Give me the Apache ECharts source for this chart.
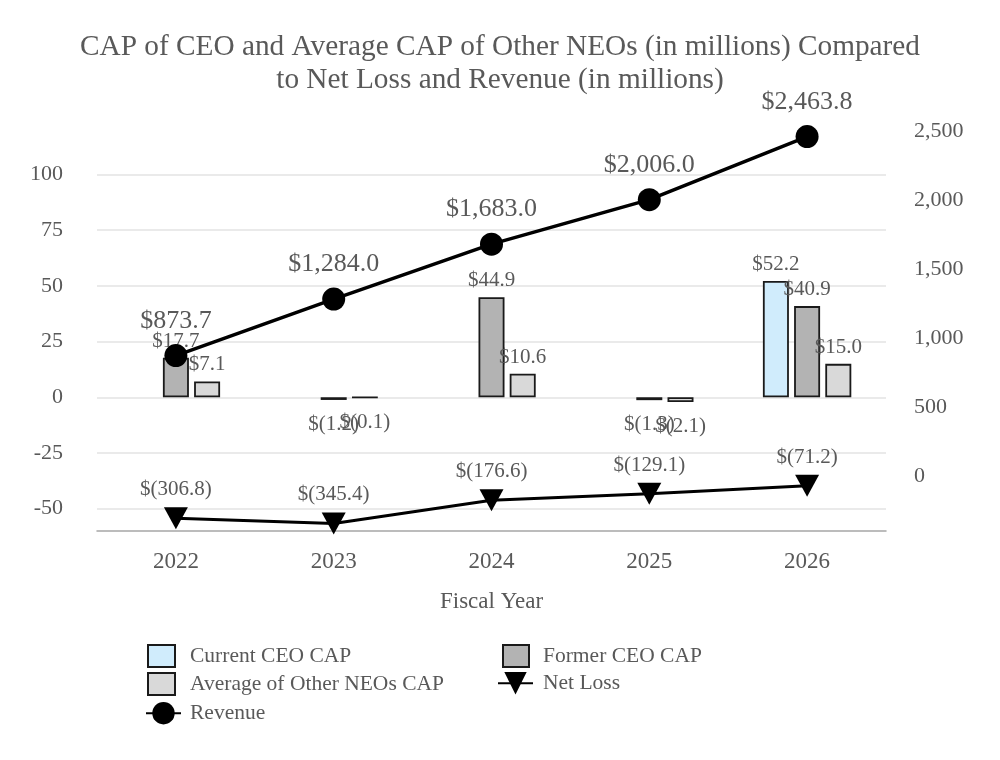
<!DOCTYPE html>
<html>
<head>
<meta charset="utf-8">
<title>CAP vs Net Loss and Revenue</title>
<script src="https://cdn.jsdelivr.net/npm/echarts@6/dist/echarts.min.js"></script>
<style>
  html, body { margin: 0; padding: 0; background: #fff; }
  #chartId1 { width: 1000px; height: 760px; }
</style>
</head>
<body>
<div id="chartId1"></div>
<script>
// 数据
var years = ['2022', '2023', '2024', '2025', '2026'];
var currentCeoCap = [null, null, null, null, 52.2];
var formerCeoCap = [17.7, -1.2, 44.9, -1.3, 40.9];
var avgNeoCap = [7.1, -0.1, 10.6, -2.1, 15.0];
var netLoss = [-306.8, -345.4, -176.6, -129.1, -71.2];
var revenue = [873.7, 1284.0, 1683.0, 2006.0, 2463.8];

var leftTicks = [-50, -25, 0, 25, 50, 75, 100];
var rightTicks = [0, 500, 1000, 1500, 2000, 2500];

var FONT = "'Liberation Serif', 'Times New Roman', serif";
var GREY = '#595959';

function money(v) {
  var s = Math.abs(v).toFixed(1).replace(/\B(?=(\d{3})+(?!\d))/g, ',');
  return v < 0 ? '$(' + s + ')' : '$' + s;
}

// 柱子数据，负数标签放在下面
function barData(arr) {
  return arr.map(function(v) {
    if (v == null) return null;
    return { value: v, label: { distance: v < 0 ? 14 : 6 } };
  });
}

function barSeries(name, arr, color) {
  return {
    name: name,
    type: 'bar',
    barWidth: 26,
    barGap: '20%',
    data: barData(arr),
    itemStyle: { color: color, borderColor: '#1a1a1a', borderWidth: 1.8 },
    label: {
      show: true,
      position: 'outside',
      color: GREY,
      fontFamily: FONT,
      fontSize: 21,
      formatter: function(p) { return money(p.value); },
    },
  };
}

var legendText = { color: GREY, fontFamily: FONT, fontSize: 21.5 };

var myChart = echarts.init(document.getElementById('chartId1'));
var option = {
  backgroundColor: '#fff',
  animation: false,
  title: {
    text: 'CAP of CEO and Average CAP of Other NEOs (in millions) Compared\nto Net Loss and Revenue (in millions)',
    left: 'center',
    top: 26,
    textStyle: { color: GREY, fontFamily: FONT, fontSize: 29.3, fontWeight: 'normal', lineHeight: 33, align: 'center' },
  },
  grid: { left: 97, right: 114, top: 120, bottom: 229 },
  legend: [
    {
      data: ['Current CEO CAP', 'Average of Other NEOs CAP'],
      orient: 'vertical', left: 142, top: 639, icon: 'rect',
      itemWidth: 27, itemHeight: 22, itemGap: 4, selectedMode: false,
      textStyle: Object.assign({ padding: [0, 0, 0, 10] }, legendText),
    },
    {
      data: ['Revenue'],
      orient: 'vertical', left: 140, top: 697,
      itemWidth: 35, itemHeight: 28, selectedMode: false,
      textStyle: Object.assign({ padding: [0, 0, 0, 4] }, legendText),
    },
    {
      data: ['Former CEO CAP'],
      orient: 'vertical', left: 497, top: 639, icon: 'rect',
      itemWidth: 26, itemHeight: 22, selectedMode: false,
      textStyle: Object.assign({ padding: [0, 0, 0, 9] }, legendText),
    },
    {
      data: ['Net Loss'],
      orient: 'vertical', left: 492, top: 667,
      itemWidth: 35, itemHeight: 28, selectedMode: false,
      textStyle: Object.assign({ padding: [0, 0, 0, 5] }, legendText),
    },
  ],
  xAxis: {
    type: 'category',
    data: years,
    name: 'Fiscal Year',
    nameLocation: 'middle',
    nameGap: 59,
    nameTextStyle: { color: GREY, fontFamily: FONT, fontSize: 23 },
    axisLine: { onZero: false, lineStyle: { color: '#a6a6a6', width: 1.5 } },
    axisTick: { show: false },
    axisLabel: { color: GREY, fontFamily: FONT, fontSize: 23, margin: 19 },
  },
  yAxis: [
    {
      type: 'value',
      min: -60,
      max: 124.4,
      axisLine: { show: false },
      axisTick: { show: false, customValues: leftTicks },
      axisLabel: { color: GREY, fontFamily: FONT, fontSize: 22, margin: 34, customValues: leftTicks },
      splitLine: { lineStyle: { color: '#e3e3e3', width: 1.5 } },
    },
    {
      type: 'value',
      min: -400,
      max: 2584.3,
      axisLine: { show: false },
      axisTick: { show: false, customValues: rightTicks },
      axisLabel: {
        color: GREY, fontFamily: FONT, fontSize: 22, margin: 28, customValues: rightTicks,
        formatter: function(v) { return String(v).replace(/\B(?=(\d{3})+(?!\d))/g, ','); },
      },
      splitLine: { show: false },
    },
  ],
  series: [
    barSeries('Current CEO CAP', currentCeoCap, '#d0ecfc'),
    barSeries('Former CEO CAP', formerCeoCap, '#b3b3b3'),
    barSeries('Average of Other NEOs CAP', avgNeoCap, '#d9d9d9'),
    {
      name: 'Net Loss',
      type: 'line',
      yAxisIndex: 1,
      data: netLoss,
      symbol: 'triangle',
      symbolRotate: 180,
      symbolSize: [24, 22],
      lineStyle: { color: '#000', width: 3 },
      itemStyle: { color: '#000' },
      label: {
        show: true, position: 'top', distance: 7,
        color: GREY, fontFamily: FONT, fontSize: 21,
        formatter: function(p) { return money(p.value); },
      },
    },
    {
      name: 'Revenue',
      type: 'line',
      yAxisIndex: 1,
      data: revenue,
      symbol: 'circle',
      symbolSize: 23,
      lineStyle: { color: '#000', width: 3.5 },
      itemStyle: { color: '#000' },
      label: {
        show: true, position: 'top', distance: 10,
        color: GREY, fontFamily: FONT, fontSize: 26,
        formatter: function(p) { return money(p.value); },
      },
    },
  ],
};
myChart.setOption(option);
</script>
</body>
</html>
